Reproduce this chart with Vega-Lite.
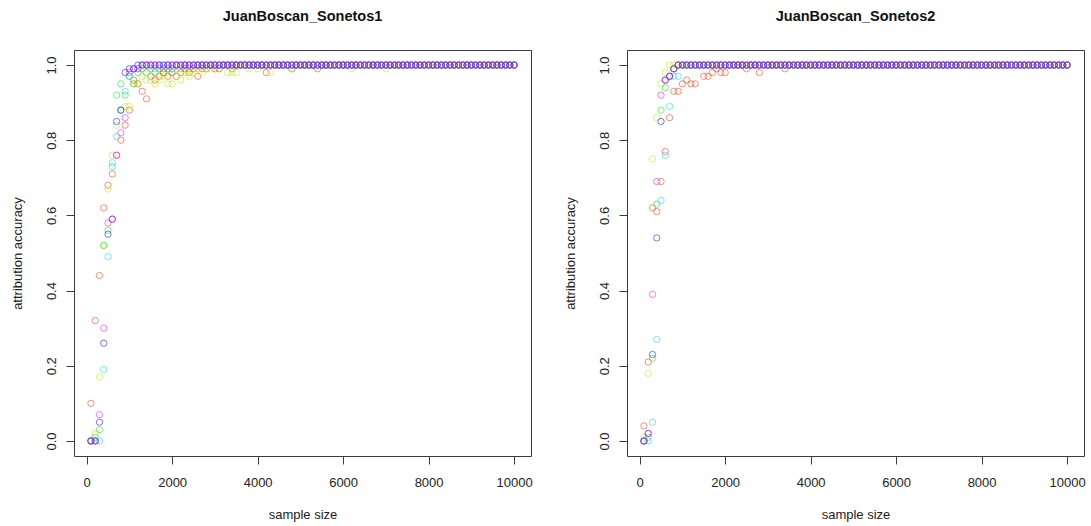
{
"$schema": "https://vega.github.io/schema/vega-lite/v6.json",
"background": "white",
"padding": {"left": 10, "top": 8, "right": 0, "bottom": 0},
"spacing": 96,
"bounds": "flush",
"datasets": {
"s1": [
{"x":100,"a":0.10,"b":0,"c":0,"d":0,"e":0,"f":0},
{"x":200,"a":0.32,"b":0.02,"c":0.01,"d":0,"e":0,"f":0},
{"x":300,"a":0.44,"b":0.17,"c":0.03,"d":0,"e":0.05,"f":0.07},
{"x":400,"a":0.62,"b":0.52,"c":0.52,"d":0.19,"e":0.26,"f":0.30},
{"x":500,"a":0.68,"b":0.67,"c":0.56,"d":0.49,"e":0.55,"f":0.58},
{"x":600,"a":0.71,"b":0.76,"c":0.73,"d":0.74,"e":0.59,"f":0.59},
{"x":700,"a":0.76,"b":0.84,"c":0.92,"d":0.81,"e":0.85,"f":0.76},
{"x":800,"a":0.80,"b":0.88,"c":0.95,"d":0.88,"e":0.88,"f":0.82},
{"x":900,"a":0.84,"b":0.89,"c":0.92,"d":0.93,"e":0.98,"f":0.86},
{"x":1000,"a":0.88,"b":0.89,"c":0.97,"d":0.97,"e":0.99,"f":0.98},
{"x":1100,"a":0.96,"b":0.95,"c":0.95,"d":0.99,"e":0.99,"f":0.99},
{"x":1200,"a":0.95,"b":0.95,"c":0.98,"d":0.99,"e":1,"f":0.99},
{"x":1300,"a":0.93,"b":0.97,"c":0.99,"d":1,"e":1,"f":1},
{"x":1400,"a":0.91,"b":0.96,"c":0.98,"d":1,"e":1,"f":1},
{"x":1500,"a":0.97,"b":0.96,"c":0.99,"d":1,"e":1,"f":1},
{"x":1600,"a":0.96,"b":0.95,"c":0.98,"d":0.99,"e":1,"f":1},
{"x":1700,"a":0.97,"b":0.96,"c":0.99,"d":1,"e":1,"f":1},
{"x":1800,"a":0.98,"b":0.97,"c":0.98,"d":1,"e":1,"f":0.99},
{"x":1900,"a":0.97,"b":0.95,"c":0.99,"d":1,"e":1,"f":1},
{"x":2000,"a":0.98,"b":0.95,"c":0.99,"d":0.99,"e":1,"f":1},
{"x":2100,"a":0.97,"b":0.97,"c":1,"d":1,"e":1,"f":1},
{"x":2200,"a":0.98,"b":0.96,"c":0.99,"d":1,"e":1,"f":1},
{"x":2300,"a":0.99,"b":0.98,"c":1,"d":1,"e":1,"f":1},
{"x":2400,"a":0.98,"b":0.97,"c":0.99,"d":1,"e":1,"f":1},
{"x":2500,"a":0.99,"b":0.98,"c":1,"d":1,"e":1,"f":1},
{"x":2600,"a":0.97,"b":0.99,"c":1,"d":1,"e":1,"f":1},
{"x":2700,"a":0.99,"b":0.98,"c":1,"d":1,"e":1,"f":1},
{"x":2800,"a":0.99,"b":0.99,"c":1,"d":1,"e":1,"f":1},
{"x":2900,"a":1,"b":0.99,"c":1,"d":1,"e":1,"f":1},
{"x":3000,"a":0.99,"b":1,"c":1,"d":1,"e":1,"f":1},
{"x":3100,"a":0.99,"b":0.99,"c":1,"d":1,"e":1,"f":1},
{"x":3200,"a":1,"b":1,"c":1,"d":1,"e":1,"f":1},
{"x":3300,"a":1,"b":0.98,"c":1,"d":1,"e":1,"f":1},
{"x":3400,"a":0.99,"b":0.98,"c":1,"d":1,"e":1,"f":1},
{"x":3500,"a":1,"b":0.98,"c":1,"d":1,"e":1,"f":1},
{"x":3600,"a":1,"b":1,"c":1,"d":1,"e":1,"f":1},
{"x":3700,"a":1,"b":1,"c":1,"d":1,"e":1,"f":1},
{"x":3800,"a":1,"b":0.99,"c":1,"d":1,"e":1,"f":1},
{"x":3900,"a":1,"b":1,"c":1,"d":1,"e":1,"f":1},
{"x":4000,"a":1,"b":0.99,"c":1,"d":1,"e":1,"f":1},
{"x":4100,"a":1,"b":1,"c":1,"d":1,"e":1,"f":1},
{"x":4200,"a":0.98,"b":1,"c":1,"d":1,"e":1,"f":1},
{"x":4300,"a":1,"b":0.98,"c":1,"d":1,"e":1,"f":1},
{"x":4400,"a":1,"b":1,"c":1,"d":1,"e":1,"f":1},
{"x":4500,"a":1,"b":1,"c":1,"d":1,"e":1,"f":1},
{"x":4600,"a":1,"b":1,"c":1,"d":1,"e":1,"f":1},
{"x":4700,"a":1,"b":1,"c":1,"d":1,"e":1,"f":1},
{"x":4800,"a":0.99,"b":0.99,"c":1,"d":1,"e":1,"f":1},
{"x":4900,"a":1,"b":1,"c":1,"d":1,"e":1,"f":1},
{"x":5000,"a":1,"b":1,"c":1,"d":1,"e":1,"f":1},
{"x":5100,"a":1,"b":1,"c":1,"d":1,"e":1,"f":1},
{"x":5200,"a":1,"b":1,"c":1,"d":1,"e":1,"f":1},
{"x":5300,"a":1,"b":1,"c":1,"d":1,"e":1,"f":1},
{"x":5400,"a":0.99,"b":1,"c":1,"d":1,"e":1,"f":1},
{"x":5500,"a":1,"b":1,"c":1,"d":1,"e":1,"f":1},
{"x":5600,"a":1,"b":1,"c":1,"d":1,"e":1,"f":1},
{"x":5700,"a":1,"b":1,"c":1,"d":1,"e":1,"f":1},
{"x":5800,"a":1,"b":1,"c":1,"d":1,"e":1,"f":1},
{"x":5900,"a":1,"b":1,"c":1,"d":1,"e":1,"f":1},
{"x":6000,"a":1,"b":1,"c":1,"d":1,"e":1,"f":1},
{"x":6100,"a":1,"b":1,"c":1,"d":1,"e":1,"f":1},
{"x":6200,"a":1,"b":0.99,"c":1,"d":1,"e":1,"f":1},
{"x":6300,"a":1,"b":1,"c":1,"d":1,"e":1,"f":1},
{"x":6400,"a":1,"b":1,"c":1,"d":1,"e":1,"f":1},
{"x":6500,"a":1,"b":1,"c":1,"d":1,"e":1,"f":1},
{"x":6600,"a":1,"b":1,"c":1,"d":1,"e":1,"f":1},
{"x":6700,"a":1,"b":1,"c":1,"d":1,"e":1,"f":1},
{"x":6800,"a":1,"b":1,"c":1,"d":1,"e":1,"f":1},
{"x":6900,"a":1,"b":1,"c":1,"d":1,"e":1,"f":1},
{"x":7000,"a":1,"b":0.99,"c":1,"d":1,"e":1,"f":1},
{"x":7100,"a":1,"b":1,"c":1,"d":1,"e":1,"f":1},
{"x":7200,"a":1,"b":1,"c":1,"d":1,"e":1,"f":1},
{"x":7300,"a":1,"b":1,"c":1,"d":1,"e":1,"f":1},
{"x":7400,"a":1,"b":1,"c":1,"d":1,"e":1,"f":1},
{"x":7500,"a":1,"b":1,"c":1,"d":1,"e":1,"f":1},
{"x":7600,"a":1,"b":1,"c":1,"d":1,"e":1,"f":1},
{"x":7700,"a":1,"b":1,"c":1,"d":1,"e":1,"f":1},
{"x":7800,"a":1,"b":1,"c":1,"d":1,"e":1,"f":1},
{"x":7900,"a":1,"b":1,"c":1,"d":1,"e":1,"f":1},
{"x":8000,"a":1,"b":1,"c":1,"d":1,"e":1,"f":1},
{"x":8100,"a":1,"b":1,"c":1,"d":1,"e":1,"f":1},
{"x":8200,"a":1,"b":1,"c":1,"d":1,"e":1,"f":1},
{"x":8300,"a":1,"b":1,"c":1,"d":1,"e":1,"f":1},
{"x":8400,"a":1,"b":1,"c":1,"d":1,"e":1,"f":1},
{"x":8500,"a":1,"b":1,"c":1,"d":1,"e":1,"f":1},
{"x":8600,"a":1,"b":1,"c":1,"d":1,"e":1,"f":1},
{"x":8700,"a":1,"b":1,"c":1,"d":1,"e":1,"f":1},
{"x":8800,"a":1,"b":1,"c":1,"d":1,"e":1,"f":1},
{"x":8900,"a":1,"b":1,"c":1,"d":1,"e":1,"f":1},
{"x":9000,"a":1,"b":1,"c":1,"d":1,"e":1,"f":1},
{"x":9100,"a":1,"b":1,"c":1,"d":1,"e":1,"f":1},
{"x":9200,"a":1,"b":1,"c":1,"d":1,"e":1,"f":1},
{"x":9300,"a":1,"b":1,"c":1,"d":1,"e":1,"f":1},
{"x":9400,"a":1,"b":1,"c":1,"d":1,"e":1,"f":1},
{"x":9500,"a":1,"b":1,"c":1,"d":1,"e":1,"f":1},
{"x":9600,"a":1,"b":1,"c":1,"d":1,"e":1,"f":1},
{"x":9700,"a":1,"b":1,"c":1,"d":1,"e":1,"f":1},
{"x":9800,"a":1,"b":1,"c":1,"d":1,"e":1,"f":1},
{"x":9900,"a":1,"b":1,"c":1,"d":1,"e":1,"f":1},
{"x":10000,"a":1,"b":1,"c":1,"d":1,"e":1,"f":1}
],
"s2": [
{"x":100,"a":0.04,"b":0.01,"c":0,"d":0,"e":0,"f":0},
{"x":200,"a":0.21,"b":0.18,"c":0.01,"d":0,"e":0.02,"f":0.02},
{"x":300,"a":0.62,"b":0.75,"c":0.22,"d":0.05,"e":0.23,"f":0.39},
{"x":400,"a":0.61,"b":0.86,"c":0.63,"d":0.27,"e":0.54,"f":0.69},
{"x":500,"a":0.69,"b":0.95,"c":0.88,"d":0.64,"e":0.85,"f":0.92},
{"x":600,"a":0.77,"b":0.98,"c":0.94,"d":0.76,"e":0.96,"f":0.96},
{"x":700,"a":0.86,"b":1,"c":0.97,"d":0.89,"e":0.97,"f":0.97},
{"x":800,"a":0.93,"b":1,"c":0.99,"d":0.97,"e":0.99,"f":0.99},
{"x":900,"a":0.93,"b":1,"c":1,"d":0.97,"e":1,"f":1},
{"x":1000,"a":0.95,"b":1,"c":1,"d":1,"e":1,"f":1},
{"x":1100,"a":0.96,"b":1,"c":1,"d":1,"e":1,"f":1},
{"x":1200,"a":0.95,"b":1,"c":1,"d":1,"e":1,"f":1},
{"x":1300,"a":0.95,"b":1,"c":1,"d":1,"e":1,"f":1},
{"x":1400,"a":1,"b":1,"c":1,"d":1,"e":1,"f":1},
{"x":1500,"a":0.97,"b":1,"c":1,"d":1,"e":1,"f":1},
{"x":1600,"a":0.97,"b":1,"c":1,"d":1,"e":1,"f":1},
{"x":1700,"a":0.98,"b":1,"c":1,"d":1,"e":1,"f":1},
{"x":1800,"a":0.99,"b":1,"c":1,"d":1,"e":1,"f":1},
{"x":1900,"a":0.98,"b":1,"c":1,"d":1,"e":1,"f":1},
{"x":2000,"a":0.98,"b":1,"c":1,"d":1,"e":1,"f":1},
{"x":2100,"a":1,"b":1,"c":1,"d":1,"e":1,"f":1},
{"x":2200,"a":1,"b":1,"c":1,"d":1,"e":1,"f":1},
{"x":2300,"a":1,"b":1,"c":1,"d":1,"e":1,"f":1},
{"x":2400,"a":1,"b":1,"c":1,"d":1,"e":1,"f":1},
{"x":2500,"a":0.99,"b":1,"c":1,"d":1,"e":1,"f":1},
{"x":2600,"a":1,"b":1,"c":1,"d":1,"e":1,"f":1},
{"x":2700,"a":1,"b":1,"c":1,"d":1,"e":1,"f":1},
{"x":2800,"a":0.98,"b":1,"c":1,"d":1,"e":1,"f":1},
{"x":2900,"a":1,"b":1,"c":1,"d":1,"e":1,"f":1},
{"x":3000,"a":1,"b":1,"c":1,"d":1,"e":1,"f":1},
{"x":3100,"a":1,"b":1,"c":1,"d":1,"e":1,"f":1},
{"x":3200,"a":1,"b":1,"c":1,"d":1,"e":1,"f":1},
{"x":3300,"a":1,"b":1,"c":1,"d":1,"e":1,"f":1},
{"x":3400,"a":0.99,"b":1,"c":1,"d":1,"e":1,"f":1},
{"x":3500,"a":1,"b":1,"c":1,"d":1,"e":1,"f":1},
{"x":3600,"a":1,"b":1,"c":1,"d":1,"e":1,"f":1},
{"x":3700,"a":1,"b":1,"c":1,"d":1,"e":1,"f":1},
{"x":3800,"a":1,"b":1,"c":1,"d":1,"e":1,"f":1},
{"x":3900,"a":1,"b":1,"c":1,"d":1,"e":1,"f":1},
{"x":4000,"a":1,"b":1,"c":1,"d":1,"e":1,"f":1},
{"x":4100,"a":1,"b":1,"c":1,"d":1,"e":1,"f":1},
{"x":4200,"a":1,"b":1,"c":1,"d":1,"e":1,"f":1},
{"x":4300,"a":1,"b":1,"c":1,"d":1,"e":1,"f":1},
{"x":4400,"a":1,"b":1,"c":1,"d":1,"e":1,"f":1},
{"x":4500,"a":1,"b":1,"c":1,"d":1,"e":1,"f":1},
{"x":4600,"a":1,"b":1,"c":1,"d":1,"e":1,"f":1},
{"x":4700,"a":1,"b":1,"c":1,"d":1,"e":1,"f":1},
{"x":4800,"a":1,"b":1,"c":1,"d":1,"e":1,"f":1},
{"x":4900,"a":1,"b":1,"c":1,"d":1,"e":1,"f":1},
{"x":5000,"a":1,"b":1,"c":1,"d":1,"e":1,"f":1},
{"x":5100,"a":1,"b":1,"c":1,"d":1,"e":1,"f":1},
{"x":5200,"a":1,"b":1,"c":1,"d":1,"e":1,"f":1},
{"x":5300,"a":1,"b":1,"c":1,"d":1,"e":1,"f":1},
{"x":5400,"a":1,"b":1,"c":1,"d":1,"e":1,"f":1},
{"x":5500,"a":1,"b":1,"c":1,"d":1,"e":1,"f":1},
{"x":5600,"a":1,"b":1,"c":1,"d":1,"e":1,"f":1},
{"x":5700,"a":1,"b":1,"c":1,"d":1,"e":1,"f":1},
{"x":5800,"a":1,"b":1,"c":1,"d":1,"e":1,"f":1},
{"x":5900,"a":1,"b":1,"c":1,"d":1,"e":1,"f":1},
{"x":6000,"a":1,"b":1,"c":1,"d":1,"e":1,"f":1},
{"x":6100,"a":1,"b":1,"c":1,"d":1,"e":1,"f":1},
{"x":6200,"a":1,"b":1,"c":1,"d":1,"e":1,"f":1},
{"x":6300,"a":1,"b":1,"c":1,"d":1,"e":1,"f":1},
{"x":6400,"a":1,"b":1,"c":1,"d":1,"e":1,"f":1},
{"x":6500,"a":1,"b":1,"c":1,"d":1,"e":1,"f":1},
{"x":6600,"a":1,"b":1,"c":1,"d":1,"e":1,"f":1},
{"x":6700,"a":1,"b":1,"c":1,"d":1,"e":1,"f":1},
{"x":6800,"a":1,"b":1,"c":1,"d":1,"e":1,"f":1},
{"x":6900,"a":1,"b":1,"c":1,"d":1,"e":1,"f":1},
{"x":7000,"a":1,"b":1,"c":1,"d":1,"e":1,"f":1},
{"x":7100,"a":1,"b":1,"c":1,"d":1,"e":1,"f":1},
{"x":7200,"a":1,"b":1,"c":1,"d":1,"e":1,"f":1},
{"x":7300,"a":1,"b":1,"c":1,"d":1,"e":1,"f":1},
{"x":7400,"a":1,"b":1,"c":1,"d":1,"e":1,"f":1},
{"x":7500,"a":1,"b":1,"c":1,"d":1,"e":1,"f":1},
{"x":7600,"a":1,"b":1,"c":1,"d":1,"e":1,"f":1},
{"x":7700,"a":1,"b":1,"c":1,"d":1,"e":1,"f":1},
{"x":7800,"a":1,"b":1,"c":1,"d":1,"e":1,"f":1},
{"x":7900,"a":1,"b":1,"c":1,"d":1,"e":1,"f":1},
{"x":8000,"a":1,"b":1,"c":1,"d":1,"e":1,"f":1},
{"x":8100,"a":1,"b":1,"c":1,"d":1,"e":1,"f":1},
{"x":8200,"a":1,"b":1,"c":1,"d":1,"e":1,"f":1},
{"x":8300,"a":1,"b":1,"c":1,"d":1,"e":1,"f":1},
{"x":8400,"a":1,"b":1,"c":1,"d":1,"e":1,"f":1},
{"x":8500,"a":1,"b":1,"c":1,"d":1,"e":1,"f":1},
{"x":8600,"a":1,"b":1,"c":1,"d":1,"e":1,"f":1},
{"x":8700,"a":1,"b":1,"c":1,"d":1,"e":1,"f":1},
{"x":8800,"a":1,"b":1,"c":1,"d":1,"e":1,"f":1},
{"x":8900,"a":1,"b":1,"c":1,"d":1,"e":1,"f":1},
{"x":9000,"a":1,"b":1,"c":1,"d":1,"e":1,"f":1},
{"x":9100,"a":1,"b":1,"c":1,"d":1,"e":1,"f":1},
{"x":9200,"a":1,"b":1,"c":1,"d":1,"e":1,"f":1},
{"x":9300,"a":1,"b":1,"c":1,"d":1,"e":1,"f":1},
{"x":9400,"a":1,"b":1,"c":1,"d":1,"e":1,"f":1},
{"x":9500,"a":1,"b":1,"c":1,"d":1,"e":1,"f":1},
{"x":9600,"a":1,"b":1,"c":1,"d":1,"e":1,"f":1},
{"x":9700,"a":1,"b":1,"c":1,"d":1,"e":1,"f":1},
{"x":9800,"a":1,"b":1,"c":1,"d":1,"e":1,"f":1},
{"x":9900,"a":1,"b":1,"c":1,"d":1,"e":1,"f":1},
{"x":10000,"a":1,"b":1,"c":1,"d":1,"e":1,"f":1}
]
},
"hconcat": [
{
"width": 457, "height": 406,
"title": "JuanBoscan_Sonetos1",
"data": {"name": "s1"},
"transform": [{"fold": ["a","b","c","d","e","f"], "as": ["s","v"]}],
"mark": {"type": "point", "filled": false, "size": 40, "strokeWidth": 1, "strokeOpacity": 0.75},
"encoding": {
"x": {"field": "x", "type": "quantitative", "scale": {"domain": [-296, 10396], "nice": false, "zero": false}, "axis": {"values": [0,2000,4000,6000,8000,10000], "format": "d", "title": "sample size"}},
"y": {"field": "v", "type": "quantitative", "scale": {"domain": [-0.04, 1.04], "nice": false, "zero": false}, "axis": {"values": [0,0.2,0.4,0.6,0.8,1], "format": ".1f", "title": "attribution accuracy", "labelAngle": -90, "labelAlign": "center", "labelBaseline": "alphabetic", "labelPadding": 11, "titlePadding": 21}},
"color": {"field": "s", "type": "nominal", "scale": {"domain": ["a","b","c","d","e","f"], "range": ["#ff2a00","#a8f000","#00e600","#00d0ff","#0000ff","#ff00ff"]}, "legend": null},
"order": {"field": "s", "type": "ordinal", "sort": "ascending"}
}
},
{
"width": 457, "height": 406,
"title": "JuanBoscan_Sonetos2",
"data": {"name": "s2"},
"transform": [{"fold": ["a","b","c","d","e","f"], "as": ["s","v"]}],
"mark": {"type": "point", "filled": false, "size": 40, "strokeWidth": 1, "strokeOpacity": 0.75},
"encoding": {
"x": {"field": "x", "type": "quantitative", "scale": {"domain": [-296, 10396], "nice": false, "zero": false}, "axis": {"values": [0,2000,4000,6000,8000,10000], "format": "d", "title": "sample size"}},
"y": {"field": "v", "type": "quantitative", "scale": {"domain": [-0.04, 1.04], "nice": false, "zero": false}, "axis": {"values": [0,0.2,0.4,0.6,0.8,1], "format": ".1f", "title": "attribution accuracy", "labelAngle": -90, "labelAlign": "center", "labelBaseline": "alphabetic", "labelPadding": 11, "titlePadding": 21}},
"color": {"field": "s", "type": "nominal", "scale": {"domain": ["a","b","c","d","e","f"], "range": ["#ff2a00","#a8f000","#00e600","#00d0ff","#0000ff","#ff00ff"]}, "legend": null},
"order": {"field": "s", "type": "ordinal", "sort": "ascending"}
}
}
],
"resolve": {"scale": {"color": "shared"}},
"config": {
"font": "Liberation Sans",
"view": {"stroke": "#3c3c3c", "strokeWidth": 1},
"axis": {"domain": false, "grid": false, "tickColor": "#3c3c3c", "tickSize": 8, "tickWidth": 1, "labelFontSize": 13, "labelColor": "#222222", "labelFont": "Liberation Sans", "titleFont": "Liberation Sans", "titleFontSize": 13, "titleFontWeight": "normal", "titleColor": "#222222", "labelOverlap": false, "labelFlush": false},
"axisX": {"labelPadding": 12, "titlePadding": 19},
"title": {"font": "Liberation Sans", "fontSize": 14.5, "fontWeight": "bold", "color": "#111111", "offset": 26, "anchor": "middle", "frame": "group"}
}
}
